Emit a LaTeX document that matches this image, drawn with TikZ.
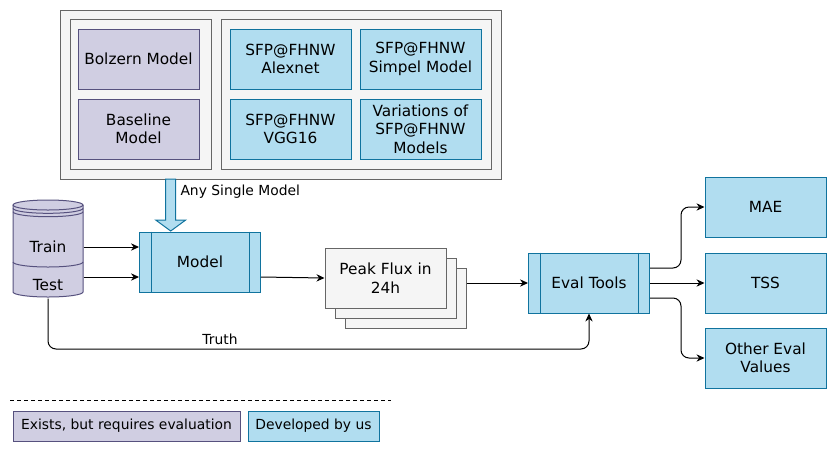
\documentclass[tikz,border=0pt]{standalone}
\usepackage{fontspec}
\setmainfont{DejaVu Sans}
\usetikzlibrary{arrows.meta,calc}
\definecolor{purplefill}{HTML}{D0CEE2}
\definecolor{purpleline}{HTML}{56517E}
\definecolor{bluefill}{HTML}{B1DDF0}
\definecolor{blueline}{HTML}{10739E}
\definecolor{grayfill}{HTML}{F5F5F5}
\definecolor{grayline}{HTML}{666666}

\begin{document}
\begin{tikzpicture}[x=0.75pt,y=-0.75pt,line width=0.75pt,
    font=\fontsize{11.5}{13.9}\selectfont,
    small/.style={font=\fontsize{10.4}{12.5}\selectfont},
    modelbox/.style={draw,inner sep=0pt,align=center,minimum width=90.75pt,minimum height=45pt},
    given/.style={modelbox,fill=purplefill,draw=purpleline},
    ours/.style={modelbox,fill=bluefill,draw=blueline},
    paper/.style={modelbox,fill=grayfill,draw=grayline},
    group/.style={fill=grayfill,draw=grayline},
    arr/.style={-{Stealth[length=6pt,width=5.5pt]}}]
  \useasboundingbox (0,0) rectangle (836,451);

  \draw[group] (60,10) rectangle (501,179);
  \draw[group] (70,19) rectangle (211,169);
  \draw[group] (221,19) rectangle (491,169);

  \node[given] (bolzern) at (138.5,59) {Bolzern Model};
  \node[given] (baseline) at (138.5,129) {Baseline\\Model};
  \node[ours] (alexnet) at (290.5,59) {SFP@FHNW\\Alexnet};
  \node[ours] (simpel) at (420.5,59) {SFP@FHNW\\Simpel Model};
  \node[ours] (vgg) at (290.5,129) {SFP@FHNW\\VGG16};
  \node[ours] (variations) at (420.5,129) {Variations of\\SFP@FHNW\\Models};

  \draw[fill=bluefill,draw=blueline] (165.7,179) -- (175.7,179) -- (175.7,220) -- (185.7,220)
    -- (170.7,231) -- (155.7,220) -- (165.7,220) -- cycle;
  \node[small,anchor=west,inner sep=0pt] (any) at (180,192) {Any Single Model};

  \scope[fill=purplefill,draw=purpleline]
    \filldraw (13,205) -- (13,292) arc[start angle=180,end angle=360,x radius=26.25pt,y radius=3.75pt]
      -- (83,205) arc[start angle=0,end angle=180,x radius=26.25pt,y radius=3.75pt] -- cycle;
    \foreach \y in {205,208.3,211.7,262}
      \draw (13,\y) arc[start angle=180,end angle=360,x radius=26.25pt,y radius=3.75pt];
  \endscope
  \node[inner sep=0pt,minimum width=52.5pt,minimum height=74.25pt] (db) at (48,248.5) {};
  \node (train) at (48,247) {Train};
  \node (test) at (48,285) {Test};

  \node[ours] (model) at (200,262) {Model};

  \node[paper] (peakc) at (405.5,298) {};
  \node[paper] (peakb) at (395.5,288) {};
  \node[paper] (peak) at (385.5,278) {Peak Flux in\\24h};

  \node[ours] (eval) at (589,283) {Eval Tools};
  \foreach \p in {model,eval}
    \draw[blueline] ($(\p.north west)+(12,0)$) -- ($(\p.south west)+(12,0)$)
      ($(\p.north east)+(-12,0)$) -- ($(\p.south east)+(-12,0)$);

  \node[ours] (mae) at (765.5,207) {MAE};
  \node[ours] (tss) at (765.5,283) {TSS};
  \node[ours] (other) at (765.5,358) {Other Eval\\Values};

  \draw[arr] (db.east |- 0,247) -- ($(model.west)+(0,-15)$);
  \draw[arr] (db.east |- 0,277) -- ($(model.west)+(0,15)$);
  \draw[arr] ($(model.east)+(0,15)$) -- (peak.west);
  \draw[arr] (peakc.east |- eval.west) -- (eval.west);
  \draw[arr,rounded corners=6] (db.south) -- (48,349) -| (eval.south);
  \node[small] (truth) at (220,339) {Truth};

  \draw[arr,rounded corners=6] ($(eval.east)+(0,-15)$) -- ++(31,0) |- (mae.west);
  \draw[arr] (eval.east) -- (tss.west);
  \draw[arr,rounded corners=6] ($(eval.east)+(0,15)$) -- ++(31,0) |- (other.west);

  \draw[dash pattern=on 3pt off 2.25pt] (10,400) -- (391,400);
  \node[given,small,minimum width=170.25pt,minimum height=22.5pt] (exists) at (126.5,426) {Exists, but requires evaluation};
  \node[ours,small,minimum width=98.25pt,minimum height=22.5pt] (developed) at (313.5,426) {Developed by us};
\end{tikzpicture}
\end{document}
